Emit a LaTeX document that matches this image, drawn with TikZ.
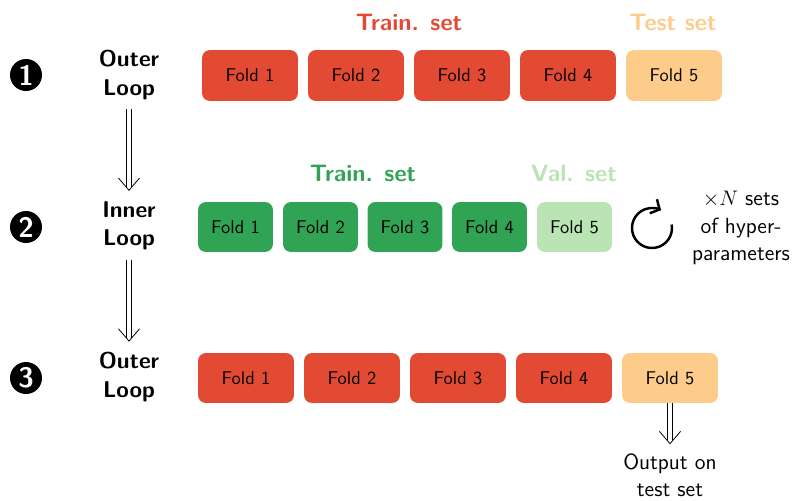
\documentclass[tikz,border=0pt]{standalone}
\usepackage{fontspec}
\usetikzlibrary{arrows.meta}
\renewcommand{\familydefault}{\sfdefault}
\definecolor{trainred}{HTML}{E34A33}
\definecolor{testorange}{HTML}{FDCC8A}
\definecolor{traingreen}{HTML}{31A354}
\definecolor{valgreen}{HTML}{BAE4B3}
% double shaft with an open head: #1 start, #2 tip (named coordinates)
\newcommand{\dblarrow}[2]{%
  \draw[double, double distance=2.6pt, line width=0.45pt] (#1) -- ([yshift=2pt]#2);
  \draw[line width=0.45pt] ([shift={(-6pt,7pt)}]#2) -- (#2) -- ([shift={(6pt,7pt)}]#2);}
\begin{document}
\begin{tikzpicture}[x=0.02cm, y=0.02cm,
  fold/.style={rounded corners=0.16cm, minimum width=1.92cm, minimum height=1.02cm, font=\fontsize{10.5}{12}\selectfont},
  smallfold/.style={fold, minimum width=1.5cm, minimum height=1cm},
  loopname/.style={align=center, font=\fontsize{13}{16}\selectfont\bfseries},
  setname/.style={font=\fontsize{13.5}{16}\selectfont\bfseries},
  plain/.style={align=center, font=\fontsize{12.5}{15.5}\selectfont},
  stepnum/.style={circle, fill=black, text=white, minimum size=0.64cm, inner sep=0pt, font=\fontsize{16}{18}\selectfont\bfseries}]
\useasboundingbox (0,0) rectangle (796,-501);
% step numbers and loop names
\node[stepnum] (n1) at (26,-75) {1};
\node[stepnum] (n2) at (26,-227) {2};
\node[stepnum] (n3) at (26,-378) {3};
\node[loopname] (outer1) at (129,-75) {Outer\\Loop};
\node[loopname] (inner) at (129,-226) {Inner\\Loop};
\node[loopname] (outer2) at (129,-377) {Outer\\Loop};
\coordinate (s1) at ([yshift=-2pt]outer1.south);
\coordinate (t1) at ([yshift=3pt]inner.north);
\coordinate (s2) at ([yshift=-2pt]inner.south);
\coordinate (t2) at ([yshift=3pt]outer2.north);
\dblarrow{s1}{t1}
\dblarrow{s2}{t2}
% outer loop folds
\node[setname, text=trainred] (train1) at (409,-22) {Train. set};
\node[setname, text=testorange] (test1) at (673,-22) {Test set};
\node[fold, fill=trainred] (f11) at (250,-75.5) {Fold 1};
\node[fold, fill=trainred] (f12) at (356,-75.5) {Fold 2};
\node[fold, fill=trainred] (f13) at (462,-75.5) {Fold 3};
\node[fold, fill=trainred] (f14) at (568,-75.5) {Fold 4};
\node[fold, fill=testorange] (f15) at (674,-75.5) {Fold 5};
% inner loop folds
\node[setname, text=traingreen] (train2) at (363,-173) {Train. set};
\node[setname, text=valgreen] (val2) at (574,-173) {Val. set};
\node[smallfold, fill=traingreen] (f21) at (235.5,-227) {Fold 1};
\node[smallfold, fill=traingreen] (f22) at (320.5,-227) {Fold 2};
\node[smallfold, fill=traingreen] (f23) at (405,-227) {Fold 3};
\node[smallfold, fill=traingreen] (f24) at (489.5,-227) {Fold 4};
\node[smallfold, fill=valgreen] (f25) at (574.5,-227) {Fold 5};
\draw[line width=1.4pt, -{Straight Barb[length=4pt, width=9pt]}] (652,-228) ++(10:0.4cm) arc[start angle=10, end angle=-297, radius=0.4cm];
\node[plain] (hyper) at (741,-228) {$\times N$ sets\\of hyper-\\parameters};
% final outer loop
\node[fold, fill=trainred, minimum height=1cm] (f31) at (246,-378) {Fold 1};
\node[fold, fill=trainred, minimum height=1cm] (f32) at (352,-378) {Fold 2};
\node[fold, fill=trainred, minimum height=1cm] (f33) at (458,-378) {Fold 3};
\node[fold, fill=trainred, minimum height=1cm] (f34) at (564,-378) {Fold 4};
\node[fold, fill=testorange, minimum height=1cm] (f35) at (670,-378) {Fold 5};
\node[plain] (out) at (670,-475) {Output on\\test set};
\coordinate (t3) at ([yshift=2pt]out.north);
\dblarrow{f35.south}{t3}
\end{tikzpicture}
\end{document}
